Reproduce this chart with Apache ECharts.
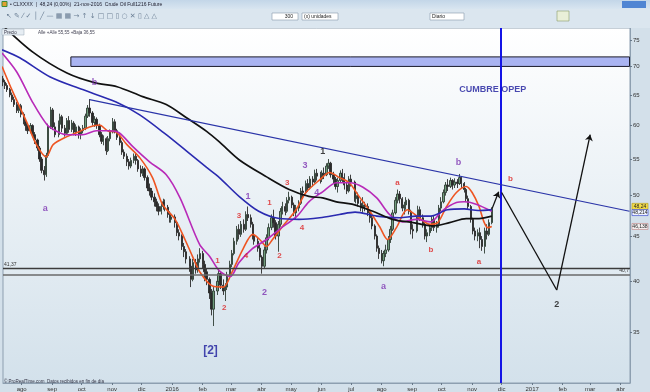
<!DOCTYPE html>
<html><head><meta charset="utf-8">
<script src="https://cdn.jsdelivr.net/npm/echarts@6/dist/echarts.min.js"></script>
<style>html,body{margin:0;padding:0;background:#d3e0ea;overflow:hidden}#c{width:650px;height:392px}</style>
</head><body><div id="c"></div>
<script>
// [date, open, close, low, high]
const prices = [
['2015-07-13',67.8,67.2,66.5,68.3],['2015-07-15',67.2,66.6,66.0,67.6],['2015-07-17',66.6,65.9,65.5,67.0],
['2015-07-20',65.9,65.0,64.6,66.2],['2015-07-22',65.0,64.2,63.8,65.4],['2015-07-24',64.2,63.4,63.0,64.7],
['2015-07-27',63.4,62.4,62.0,63.8],['2015-07-29',62.4,63.2,62.0,63.6],['2015-07-31',63.2,61.8,61.3,63.5],
['2015-08-03',61.8,60.6,60.2,62.1],['2015-08-05',60.6,60.0,59.2,61.0],['2015-08-07',60.0,59.2,58.7,60.4],
['2015-08-10',59.2,60.0,58.8,60.4],['2015-08-12',60.0,58.6,58.2,60.2],['2015-08-14',58.6,57.8,57.2,59.0],
['2015-08-17',57.8,56.6,56.2,58.0],['2015-08-19',56.6,55.0,54.6,56.9],['2015-08-21',55.0,53.4,53.0,55.3],
['2015-08-24',53.4,52.8,52.0,54.0],['2015-08-26',52.8,55.5,52.5,55.9],['2015-08-28',55.5,59.8,55.2,60.3],
['2015-08-31',59.8,62.5,59.5,63.0],['2015-09-02',62.5,59.8,59.3,62.8],['2015-09-04',59.8,58.6,58.2,60.5],
['2015-09-08',58.6,60.2,58.2,60.8],['2015-09-09',60.2,61.4,59.6,61.9],['2015-09-11',61.4,59.6,59.0,61.7],
['2015-09-14',59.6,58.8,58.3,60.1],['2015-09-16',58.8,60.8,58.6,61.2],['2015-09-18',60.8,59.4,58.9,61.5],
['2015-09-21',59.4,60.4,59.0,60.9],['2015-09-23',60.4,59.0,58.5,60.7],['2015-09-25',59.0,59.8,58.4,60.2],
['2015-09-28',59.8,58.6,58.0,60.0],['2015-09-30',58.6,59.2,57.9,59.6],['2015-10-02',59.2,59.6,58.8,60.1],
['2015-10-05',59.6,61.5,59.3,61.9],['2015-10-07',61.5,62.8,61.2,63.3],['2015-10-09',62.8,62.0,61.4,64.3],
['2015-10-12',62.0,60.5,60.0,62.3],['2015-10-14',60.5,61.0,59.8,61.5],['2015-10-16',61.0,60.0,59.5,61.3],
['2015-10-19',60.0,58.6,58.2,60.3],['2015-10-21',58.6,57.6,57.2,59.0],['2015-10-23',57.6,58.0,57.0,58.5],
['2015-10-26',58.0,56.2,55.6,58.2],['2015-10-28',56.2,58.0,56.0,58.4],['2015-10-30',58.0,59.0,57.6,59.4],
['2015-11-02',59.0,60.6,58.8,61.2],['2015-11-04',60.6,59.2,58.8,61.0],['2015-11-06',59.2,58.2,57.8,59.5],
['2015-11-09',58.2,57.4,57.0,58.6],['2015-11-11',57.4,56.0,55.6,57.7],['2015-11-13',56.0,55.4,55.0,56.4],
['2015-11-16',55.4,54.6,54.0,55.8],['2015-11-18',54.6,54.0,53.5,55.0],['2015-11-20',54.0,54.8,53.7,55.2],
['2015-11-23',54.8,55.4,54.4,55.8],['2015-11-25',55.4,54.8,54.2,55.8],['2015-11-27',54.8,53.6,53.2,55.0],
['2015-11-30',53.6,53.0,52.5,54.1],['2015-12-02',53.0,53.6,52.6,54.0],['2015-12-04',53.6,52.4,52.0,53.8],
['2015-12-07',52.4,51.0,50.6,52.7],['2015-12-09',51.0,50.6,50.0,51.6],['2015-12-11',50.6,49.8,49.4,51.0],
['2015-12-14',49.8,49.2,48.6,50.3],['2015-12-16',49.2,48.6,48.0,49.6],['2015-12-18',48.6,48.0,47.5,49.0],
['2015-12-21',48.0,48.6,47.6,49.0],['2015-12-23',48.6,49.2,48.2,49.6],['2015-12-24',49.2,48.5,48.0,49.5],
['2015-12-28',48.5,47.6,47.2,48.8],['2015-12-30',47.6,47.0,46.6,48.0],['2015-12-31',47.0,47.3,46.6,47.8],
['2016-01-04',47.3,46.6,46.0,47.6],['2016-01-06',46.6,45.4,45.0,46.8],['2016-01-08',45.4,45.0,44.5,45.8],
['2016-01-11',45.0,43.8,43.4,45.2],['2016-01-13',43.8,43.2,42.6,44.2],['2016-01-15',43.2,42.4,41.9,43.5],
['2016-01-19',42.4,41.6,41.0,42.7],['2016-01-20',41.6,40.2,39.4,41.8],['2016-01-22',40.2,42.0,40.0,42.4],
['2016-01-25',42.0,41.2,40.8,42.4],['2016-01-27',41.2,42.4,40.9,42.9],['2016-01-29',42.4,43.0,42.0,43.6],
['2016-02-01',43.0,41.8,41.4,43.3],['2016-02-03',41.8,41.0,40.0,42.2],['2016-02-05',41.0,40.2,39.6,41.4],
['2016-02-08',40.2,38.8,38.2,40.4],['2016-02-10',38.8,37.2,36.6,39.2],['2016-02-12',37.2,39.0,35.6,39.4],
['2016-02-16',39.0,40.0,38.6,40.5],['2016-02-17',40.0,40.8,39.3,41.3],['2016-02-19',40.8,39.6,39.2,41.0],
['2016-02-22',39.6,39.0,38.6,40.2],['2016-02-24',39.0,39.4,38.0,39.8],['2016-02-26',39.4,40.6,39.1,41.0],
['2016-02-29',40.6,41.8,40.3,42.2],['2016-03-02',41.8,43.0,41.5,43.4],['2016-03-04',43.0,44.4,42.8,44.8],
['2016-03-07',44.4,45.8,44.0,46.2],['2016-03-09',45.8,45.2,44.6,46.4],['2016-03-11',45.2,46.4,44.9,46.8],
['2016-03-14',46.4,45.8,45.4,47.0],['2016-03-16',45.8,47.6,45.6,48.0],['2016-03-18',47.6,47.2,46.8,48.6],
['2016-03-21',47.2,46.4,46.0,47.6],['2016-03-23',46.4,45.0,44.6,46.7],['2016-03-24',45.0,44.4,44.0,45.4],
['2016-03-28',44.4,43.6,43.2,44.8],['2016-03-30',43.6,42.6,42.2,44.0],['2016-04-01',42.6,41.6,40.8,42.8],
['2016-04-04',41.6,43.4,41.3,43.8],['2016-04-06',43.4,44.8,43.0,45.2],['2016-04-08',44.8,46.0,44.5,46.5],
['2016-04-11',46.0,47.2,45.7,47.6],['2016-04-13',47.2,46.6,46.0,48.2],['2016-04-15',46.6,45.0,44.6,46.9],
['2016-04-18',45.0,46.4,43.2,46.8],['2016-04-20',46.4,48.0,46.1,48.4],['2016-04-22',48.0,48.6,47.6,49.2],
['2016-04-25',48.6,48.0,47.5,49.0],['2016-04-27',48.0,49.4,47.8,49.8],['2016-04-29',49.4,49.8,49.0,50.5],
['2016-05-02',49.8,48.8,48.4,50.0],['2016-05-04',48.8,47.8,47.4,49.1],['2016-05-06',47.8,48.4,47.0,48.8],
['2016-05-09',48.4,49.0,48.0,49.4],['2016-05-11',49.0,50.6,48.8,51.0],['2016-05-13',50.6,50.4,49.8,51.2],
['2016-05-16',50.4,51.6,50.2,52.0],['2016-05-18',51.6,51.0,50.5,52.2],['2016-05-20',51.0,52.2,50.8,52.6],
['2016-05-23',52.2,51.8,51.2,52.6],['2016-05-25',51.8,53.0,51.6,53.5],['2016-05-27',53.0,52.6,52.0,53.6],
['2016-05-31',52.6,52.2,51.6,53.2],['2016-06-01',52.2,53.0,51.8,53.4],['2016-06-03',53.0,52.8,52.2,53.8],
['2016-06-06',52.8,54.0,52.6,54.4],['2016-06-08',54.0,54.4,53.6,55.0],['2016-06-10',54.4,52.8,52.4,54.6],
['2016-06-13',52.8,52.2,51.6,53.2],['2016-06-15',52.2,51.2,50.8,52.5],['2016-06-17',51.2,52.0,50.4,52.4],
['2016-06-20',52.0,53.0,51.8,53.4],['2016-06-22',53.0,52.4,51.8,53.6],['2016-06-24',52.4,51.4,50.8,53.0],
['2016-06-27',51.4,50.6,50.2,51.8],['2016-06-29',50.6,52.2,50.4,52.6],['2016-07-01',52.2,51.8,51.2,52.8],
['2016-07-05',51.8,49.6,49.2,52.0],['2016-07-06',49.6,50.0,49.0,50.4],['2016-07-08',50.0,49.0,48.6,50.4],
['2016-07-11',49.0,48.4,48.0,49.4],['2016-07-13',48.4,48.8,47.8,49.8],['2016-07-15',48.8,48.6,48.0,49.2],
['2016-07-18',48.6,47.8,47.4,49.0],['2016-07-20',47.8,47.2,46.6,48.2],['2016-07-22',47.2,46.2,45.8,47.5],
['2016-07-25',46.2,45.0,44.6,46.4],['2016-07-27',45.0,43.6,43.2,45.2],['2016-07-29',43.6,43.0,42.4,43.9],
['2016-08-01',43.0,42.2,41.9,43.4],['2016-08-03',42.2,43.0,41.6,43.3],['2016-08-05',43.0,43.4,42.6,44.0],
['2016-08-08',43.4,44.6,43.2,45.0],['2016-08-10',44.6,45.8,44.2,46.2],['2016-08-12',45.8,47.8,45.6,48.2],
['2016-08-15',47.8,49.4,47.6,49.8],['2016-08-17',49.4,50.2,49.0,50.8],['2016-08-19',50.2,49.6,49.0,50.6],
['2016-08-22',49.6,48.4,48.0,49.8],['2016-08-24',48.4,48.8,47.6,49.2],['2016-08-26',48.8,49.4,48.2,49.8],
['2016-08-29',49.4,48.0,47.6,49.6],['2016-08-31',48.0,45.8,45.2,48.2],['2016-09-02',45.8,45.6,44.7,46.4],
['2016-09-06',45.6,47.0,45.4,47.4],['2016-09-07',47.0,48.2,46.8,48.7],['2016-09-09',48.2,47.2,46.8,48.6],
['2016-09-12',47.2,46.4,46.0,47.6],['2016-09-14',46.4,45.0,44.6,46.6],['2016-09-16',45.0,45.4,44.3,45.8],
['2016-09-19',45.4,46.0,45.0,46.4],['2016-09-21',46.0,47.0,45.6,47.4],['2016-09-23',47.0,46.0,45.6,47.4],
['2016-09-26',46.0,46.4,45.4,46.8],['2016-09-28',46.4,48.4,46.0,48.8],['2016-09-30',48.4,49.2,48.0,49.8],
['2016-10-03',49.2,50.4,49.0,50.8],['2016-10-05',50.4,51.4,50.0,51.8],['2016-10-07',51.4,51.2,50.6,52.2],
['2016-10-10',51.2,52.0,51.0,52.4],['2016-10-12',52.0,51.4,50.8,52.2],['2016-10-14',51.4,51.8,51.0,52.3],
['2016-10-17',51.8,51.6,51.0,52.2],['2016-10-19',51.6,52.4,51.4,52.9],['2016-10-21',52.4,51.6,51.0,52.6],
['2016-10-24',51.6,50.8,50.4,51.8],['2016-10-26',50.8,49.6,49.2,51.0],['2016-10-28',49.6,48.6,48.2,50.0],
['2016-10-31',48.6,47.0,46.6,48.8],['2016-11-02',47.0,45.6,45.2,47.2],['2016-11-04',45.6,45.0,44.5,46.0],
['2016-11-07',45.0,45.4,44.4,45.8],['2016-11-09',45.4,44.6,43.6,46.0],['2016-11-11',44.6,43.8,43.3,45.0],
['2016-11-14',43.8,45.6,43.0,46.0],['2016-11-16',45.6,45.2,44.6,46.4],['2016-11-18',45.2,46.6,45.0,47.0],
['2016-11-21',46.6,48.24,46.4,48.5]
];
const maFast = [['2015-07-12',70.0],['2015-07-23',65.5],['2015-08-06',60.6],['2015-08-16',57.1],['2015-08-26',55.3],['2015-09-02',57.1],['2015-09-16',58.3],['2015-09-29',59.1],['2015-10-09',59.8],['2015-10-19',60.1],['2015-10-29',59.1],['2015-11-03',59.1],['2015-11-16',57.1],['2015-11-29',55.2],['2015-12-12',52.4],['2015-12-22',48.9],['2016-01-04',47.0],['2016-01-14',44.6],['2016-01-22',42.6],['2016-01-29',41.0],['2016-02-11',39.5],['2016-02-22',39.4],['2016-03-02',41.0],['2016-03-13',43.5],['2016-03-23',45.2],['2016-03-30',44.6],['2016-04-06',43.8],['2016-04-12',44.6],['2016-04-22',46.1],['2016-05-06',48.2],['2016-05-16',50.4],['2016-05-30',52.1],['2016-06-09',53.1],['2016-06-19',52.4],['2016-06-29',51.7],['2016-07-09',49.9],['2016-07-19',48.2],['2016-07-30',46.1],['2016-08-07',44.6],['2016-08-16',46.0],['2016-08-27',48.2],['2016-09-08',47.2],['2016-09-19',46.4],['2016-09-27',46.6],['2016-10-06',48.6],['2016-10-16',50.4],['2016-10-26',51.2],['2016-11-01',50.4],['2016-11-08',48.6],['2016-11-13',46.7],['2016-11-17',46.0],['2016-11-21',46.14]];
const maMid = [['2015-07-12',72.5],['2015-07-27',69.0],['2015-08-12',63.8],['2015-08-27',60.1],['2015-09-06',59.1],['2015-09-16',58.6],['2015-10-02',58.6],['2015-10-16',59.2],['2015-10-29',59.2],['2015-11-08',58.9],['2015-11-22',56.8],['2015-12-09',54.6],['2015-12-26',52.8],['2016-01-09',49.7],['2016-01-29',44.0],['2016-02-08',42.7],['2016-02-18',41.1],['2016-02-29',40.5],['2016-03-09',42.0],['2016-03-22',43.5],['2016-04-06',44.6],['2016-04-19',45.8],['2016-05-07',47.4],['2016-05-19',49.2],['2016-06-02',50.5],['2016-06-16',51.7],['2016-06-30',51.7],['2016-07-13',51.1],['2016-07-27',49.7],['2016-08-09',47.6],['2016-08-22',46.7],['2016-09-05',47.0],['2016-09-20',46.7],['2016-10-01',48.0],['2016-10-16',49.1],['2016-10-24',49.2],['2016-11-05',48.9],['2016-11-21',48.0]];
const maSlow = [['2015-07-12',73.1],['2015-07-30',71.6],['2015-08-30',68.1],['2015-10-02',65.9],['2015-11-05',63.8],['2015-11-29',61.7],['2015-12-26',58.6],['2016-01-16',56.1],['2016-02-05',53.8],['2016-02-18',52.4],['2016-03-09',49.9],['2016-03-29',48.0],['2016-04-19',47.1],['2016-05-09',47.0],['2016-05-30',47.2],['2016-06-19',47.6],['2016-07-05',47.9],['2016-07-27',47.4],['2016-08-19',47.2],['2016-09-05',47.4],['2016-09-20',47.4],['2016-10-07',48.2],['2016-10-24',48.3],['2016-11-07',48.1],['2016-11-21',48.21]];
const maLong = [['2015-07-12',78.0],['2015-08-12',72.7],['2015-09-16',68.8],['2015-10-14',67.1],['2015-11-06',66.4],['2015-12-02',64.7],['2015-12-26',63.4],['2016-01-16',61.2],['2016-02-05',59.1],['2016-02-18',57.5],['2016-03-09',54.9],['2016-04-06',52.5],['2016-04-29',50.8],['2016-05-19',49.9],['2016-06-02',49.7],['2016-06-16',49.2],['2016-07-02',48.9],['2016-07-23',48.0],['2016-08-12',47.0],['2016-09-02',46.6],['2016-09-22',46.2],['2016-10-09',46.6],['2016-10-26',47.1],['2016-11-08',47.1],['2016-11-21',47.4]];
const trendLine = [['2015-10-09',64.2],['2017-04-10',48.0]];
const projUp = [['2016-11-21',48.24],['2016-11-28',50.5]];
const projPath = [['2016-12-01',50.4],['2017-01-26',39.1],['2017-03-01',58.6]];
const zoneBox = [['2015-09-20',71.76],['2017-04-10',70.0]];
const levels = [41.37, 40.7];
const levelLabels = ['41,37', '40,7'];
const summitDate = '2016-11-30';
const priceTicks = [35,40,45,50,55,60,65,70,75];
const monthTicks = ['2015-08-01','2015-09-01','2015-10-01','2015-11-01','2015-12-01','2016-01-01','2016-02-01','2016-03-01','2016-04-01','2016-05-01','2016-06-01','2016-07-01','2016-08-01','2016-09-01','2016-10-01','2016-11-01','2016-12-01','2017-01-01','2017-02-01','2017-03-01','2017-04-01'];
const monthLabels = ['ago','sep','oct','nov','dic','2016','feb','mar','abr','may','jun','jul','ago','sep','oct','nov','dic','2017','feb','mar','abr'];
const lastValues = [48.24, 48.214, 46.138];
const lastLabels = ['48,24', '48,214', '46,138'];
// [text, date, price, colour key]
const waveLabels = [
['b','2015-10-14',67.2,'p'],['a','2015-08-25',48.4,'p'],['1','2016-06-02',56.1,'k'],
['3','2016-05-15',54.1,'p'],['3','2016-04-27',51.7,'r'],['1','2016-04-09',49.1,'r'],
['1','2016-03-18',49.9,'p'],['3','2016-03-09',47.4,'r'],['4','2016-05-27',50.4,'p'],
['4','2016-05-12',46.0,'r'],['2','2016-04-19',42.7,'r'],['4','2016-03-16',42.7,'r'],
['1','2016-02-16',42.2,'r'],['2','2016-02-23',37.3,'r'],['2','2016-04-04',38.8,'p'],
['a','2016-08-03',39.5,'p'],['a','2016-08-17',51.7,'r'],['b','2016-09-20',43.4,'r'],
['b','2016-10-18',54.5,'p'],['a','2016-11-08',42.1,'r'],['b','2016-12-10',52.3,'r'],
['2','2017-01-26',37.7,'k'],['[2]','2016-02-09',33.4,'n'],['CUMBRE OPEP','2016-11-22',65.9,'n']
];

const T = s => { const p = s.split('-').map(Number); return new Date(p[0], p[1]-1, p[2]).getTime(); };
const pts = arr => arr.map(a => [T(a[0]), a[1]]);
const xMin = T('2015-07-13'), xMax = T('2017-04-10') + 12*3600e3;
const monthTs = monthTicks.map(T);
const labelOf = v => { let best = '', bd = Infinity; monthTs.forEach((t,i) => { const d = Math.abs(t - v); if (d < bd) { bd = d; best = monthLabels[i]; } }); return bd < 86400e3 ? best : ''; };
const styles = {
  r:{color:'#dd2222',fontSize:8,fontWeight:'bold'},
  p:{color:'#7a2fb0',fontSize:9,fontWeight:'bold'},
  k:{color:'#111111',fontSize:9,fontWeight:'bold'},
  n:{color:'#1c1c9c',fontSize:9,fontWeight:'bold'}
};
const FONT = '"Liberation Sans", Arial, sans-serif';

const chart = echarts.init(document.getElementById('c'));
const lastStyles = [
  {fill:'#f2dc48', stroke:'#b8a020', off:-3},
  {fill:'#eef2ff', stroke:'#3a4ad0', off:3},
  {fill:'#f3eeee', stroke:'#c08a8a', off:0}
];
const gfx = [
  {type:'rect', z:100, shape:{x:0,y:0,width:650,height:9}, style:{fill:new echarts.graphic.LinearGradient(0,0,0,1,[{offset:0,color:'#c3d6e8'},{offset:1,color:'#d8e5f0'}])}},
  {type:'rect', z:100, shape:{x:2,y:1.5,width:5,height:5}, style:{fill:'#e0a030', stroke:'#3a8a3a'}},
  {type:'text', z:101, x:10, y:1.8, style:{text:'• CLXXXX  |  48,24 (0,00%)  21-nov-2016  Crude Oil Full1216 Future', fontSize:5, fill:'#223', fontFamily:FONT}},
  {type:'rect', z:100, shape:{x:622,y:1,width:24,height:7}, style:{fill:'#4f85d3'}},
  {type:'rect', z:100, shape:{x:0,y:9,width:650,height:19}, style:{fill:'#dbe6ef'}},
  {type:'text', z:101, x:6, y:13, style:{text:'↖ ✎ ⁄ ✓ │ ╱ — ▦ ▦ → ↑ ↓ □ □ ▯ ○ ✕ ▯ △ △', fontSize:7, fill:'#6b7f95', fontFamily:'DejaVu Sans'}},
  {type:'rect', z:100, shape:{x:272,y:13,width:26,height:7}, style:{fill:'#fff', stroke:'#8899aa', lineWidth:0.6}},
  {type:'text', z:101, x:293, y:14.2, style:{text:'300', fontSize:5, fill:'#222', align:'right', fontFamily:FONT}},
  {type:'rect', z:100, shape:{x:302,y:13,width:36,height:7}, style:{fill:'#fff', stroke:'#8899aa', lineWidth:0.6}},
  {type:'text', z:101, x:304, y:14.2, style:{text:'(x) unidades', fontSize:5, fill:'#222', fontFamily:FONT}},
  {type:'rect', z:100, shape:{x:430,y:13,width:34,height:7}, style:{fill:'#fff', stroke:'#8899aa', lineWidth:0.6}},
  {type:'text', z:101, x:432, y:14.2, style:{text:'Diario', fontSize:5, fill:'#222', fontFamily:FONT}},
  {type:'rect', z:100, shape:{x:557,y:11,width:12,height:10}, style:{fill:'#e9efd8', stroke:'#8a9a6a', lineWidth:0.6}},
  {type:'rect', z:100, shape:{x:2,y:29,width:22,height:6}, style:{fill:'#e6edf3', stroke:'#9aa8b6', lineWidth:0.5}},
  {type:'text', z:101, x:4, y:30, style:{text:'Precio', fontSize:4.5, fill:'#334', fontFamily:FONT}},
  {type:'text', z:101, x:38, y:30, style:{text:'Alle +Alle 55,55 +Baja 36,55', fontSize:4.5, fill:'#445', fontFamily:FONT}},
  {type:'text', z:101, x:4, y:379, style:{text:'© ProRealTime.com  Datos recibidos en fin de día', fontSize:4.5, fill:'#334', fontFamily:FONT}}
];

const option = {
  animation:false,
  backgroundColor:'#d3e0ea',
  textStyle:{fontFamily:FONT},
  graphic:gfx,
  grid:{left:3,right:20,top:28,bottom:8,show:true,
    backgroundColor:new echarts.graphic.LinearGradient(0,0,0,1,[{offset:0,color:'#ffffff'},{offset:1,color:'#d3e1eb'}]),
    borderColor:'#8d9fb0',borderWidth:1},
  xAxis:{type:'value',min:xMin,max:xMax,scale:true,
    axisLine:{show:true,onZero:false,lineStyle:{color:'#8d9fb0'}},
    axisTick:{show:true,customValues:monthTs,length:2,lineStyle:{color:'#667788'}},
    axisLabel:{customValues:monthTs,formatter:v=>labelOf(v),fontSize:6,color:'#333',margin:3,hideOverlap:false,showMinLabel:true,showMaxLabel:true},
    splitLine:{show:false}},
  yAxis:{type:'log',position:'right',min:30.69,max:77.37,
    axisLine:{show:true,lineStyle:{color:'#8d9fb0'}},
    axisTick:{show:true,customValues:priceTicks,length:2,lineStyle:{color:'#667788'}},
    axisLabel:{customValues:priceTicks,fontSize:6,color:'#333',margin:3},
    splitLine:{show:false}},
  series:[
    {type:'candlestick',name:'Precio',z:3,barWidth:1.8,
      data:prices.map(a=>[T(a[0]),a[1],a[2],a[3],a[4]]),
      itemStyle:{color:'#6f9c7b',color0:'#2a2a2a',borderColor:'#2f3d34',borderColor0:'#2a2a2a',borderWidth:0.9},
      emphasis:{disabled:true},
      markArea:{silent:true,z:1,data:[[{coord:[T(zoneBox[0][0]),zoneBox[0][1]]},{coord:[Math.min(T(zoneBox[1][0]),xMax),zoneBox[1][1]]}]],
        itemStyle:{color:'#aab4f2',borderColor:'#1a1a2a',borderWidth:1}},
      markLine:{silent:true,symbol:'none',animation:false,data:[
        {yAxis:levels[0],lineStyle:{color:'#3c3c3c',width:1.3,type:'solid'},label:{show:true,position:'insideStartTop',formatter:levelLabels[0],fontSize:5,color:'#333',distance:1}},
        {yAxis:levels[1],lineStyle:{color:'#6a6a6a',width:1.5,type:'solid'},label:{show:true,position:'insideEndTop',formatter:levelLabels[1],fontSize:5,color:'#333',distance:1}},
        {xAxis:T(summitDate),lineStyle:{color:'#1414e6',width:2,type:'solid'},label:{show:false}}
      ]},
      markPoint:{silent:true,animation:false,data:lastValues.map((v,i)=>({coord:[xMax,v],symbol:'rect',symbolSize:[16,6],symbolOffset:[10,lastStyles[i].off],
        itemStyle:{color:lastStyles[i].fill,borderColor:lastStyles[i].stroke,borderWidth:0.6},
        label:{show:true,position:'inside',formatter:lastLabels[i],fontSize:5,color:'#222'}}))}
    },
    {type:'line',name:'MA20',z:4,data:pts(maFast),smooth:0.3,symbol:'none',lineStyle:{color:'#ee5522',width:1.6},emphasis:{disabled:true}},
    {type:'line',name:'MA50',z:4,data:pts(maMid),smooth:0.3,symbol:'none',lineStyle:{color:'#b82ab8',width:1.6},emphasis:{disabled:true}},
    {type:'line',name:'MA100',z:4,data:pts(maSlow),smooth:0.3,symbol:'none',lineStyle:{color:'#2a2ab0',width:1.6},emphasis:{disabled:true}},
    {type:'line',name:'MA200',z:4,data:pts(maLong),smooth:0.3,symbol:'none',lineStyle:{color:'#111111',width:1.7},emphasis:{disabled:true}},
    {type:'line',name:'Tendencia',z:5,data:pts(trendLine),symbol:'none',lineStyle:{color:'#2a34a8',width:1.2},emphasis:{disabled:true},
      markLine:{silent:true,animation:false,symbol:['none','arrow'],symbolSize:6,lineStyle:{color:'#111',width:1.3,type:'solid'},label:{show:false},
        data:[
          [{coord:[T(projUp[0][0]),projUp[0][1]]},{coord:[T(projUp[1][0]),projUp[1][1]]}],
          [{coord:[T(projPath[0][0]),projPath[0][1]]},{coord:[T(projPath[1][0]),projPath[1][1]],symbol:'none'}],
          [{coord:[T(projPath[1][0]),projPath[1][1]]},{coord:[T(projPath[2][0]),projPath[2][1]]}]
        ]}},
    {type:'scatter',name:'Ondas',z:10,symbolSize:1,itemStyle:{color:'rgba(0,0,0,0)'},emphasis:{disabled:true},silent:true,
      data:waveLabels.map(w=>{const st=styles[w[3]];const big=w[0]==='[2]';
        return {value:[T(w[1]),w[2]],label:{show:true,position:'inside',formatter:w[0],color:st.color,fontSize:big?12:st.fontSize,fontWeight:st.fontWeight,fontFamily:FONT}};})}
  ]
};
chart.setOption(option);
</script></body></html>
